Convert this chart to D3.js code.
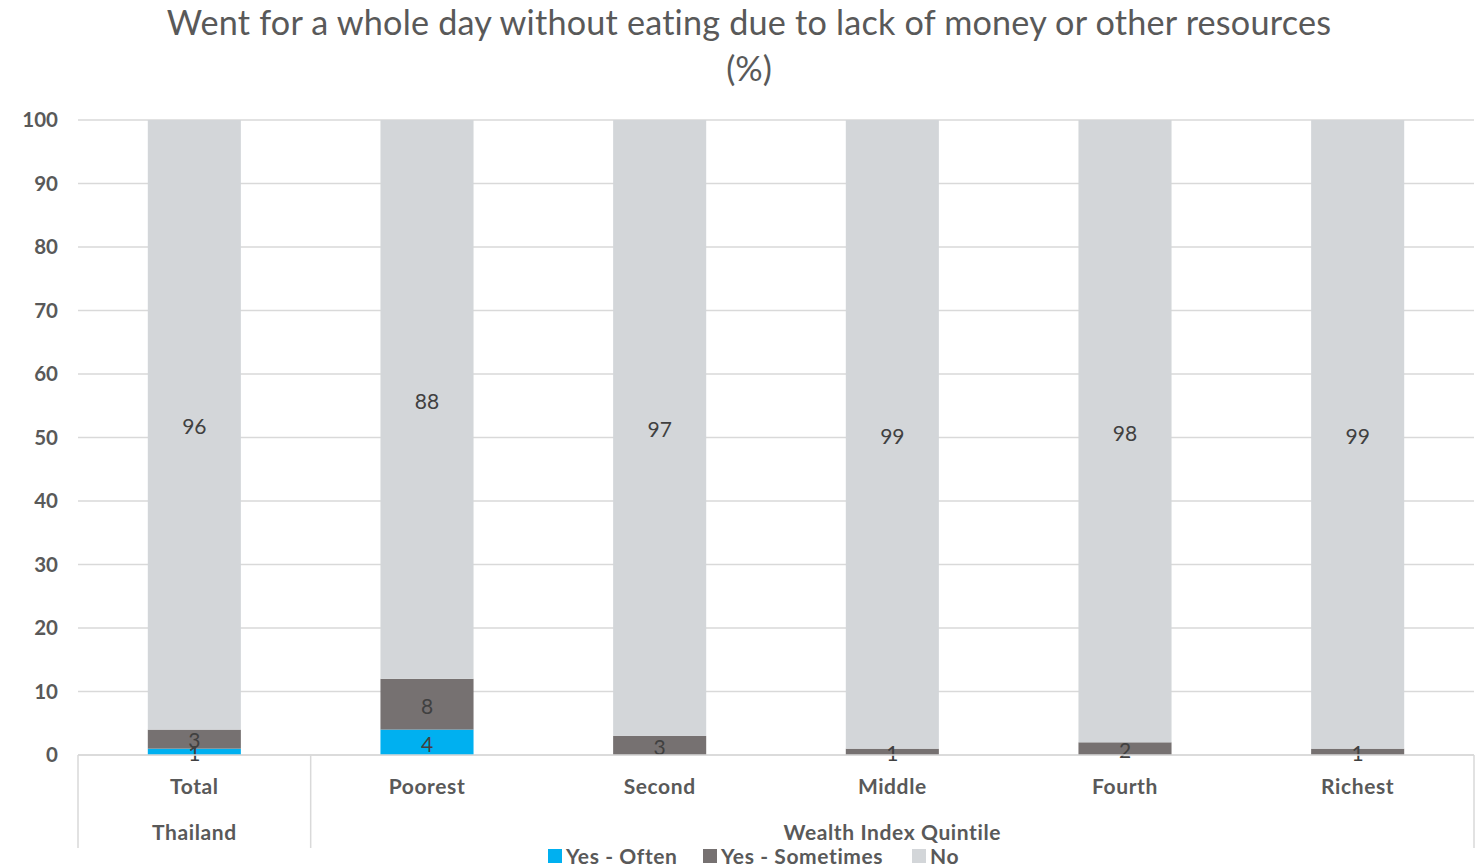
<!DOCTYPE html>
<html>
<head>
<meta charset="utf-8">
<script src="https://cdn.jsdelivr.net/npm/d3@7"></script>
<style>
  html, body { margin: 0; padding: 0; background: #fff; }
  svg { display: block; }
</style>
</head>
<body>
<svg id="chart" width="1476" height="867"></svg>
<script>
// Categories along the x axis and their group
const categories = ["Total", "Poorest", "Second", "Middle", "Fourth", "Richest"];
const groups = [
  { label: "Thailand", members: ["Total"] },
  { label: "Wealth Index Quintile", members: ["Poorest", "Second", "Middle", "Fourth", "Richest"] }
];

// Series values (%)
const seriesNames = ["Yes - Often", "Yes - Sometimes", "No"];
const yesOften     = [1, 4, 0, 0, 0, 0];
const yesSometimes = [3, 8, 3, 1, 2, 1];
const no           = [96, 88, 97, 99, 98, 99];
const seriesColors = ["#00B0F0", "#767171", "#D3D6D9"];

const yTicks = [0, 10, 20, 30, 40, 50, 60, 70, 80, 90, 100];

const title1 = "Went for a whole day without eating due to lack of money or other resources";
const title2 = "(%)";

const W = 1476, H = 867;
const margin = { left: 78, right: 2, top: 120, bottom: 112 };
const svg = d3.select("#chart");
const font = "Lato, 'Liberation Sans', sans-serif";

const x = d3.scaleBand().domain(categories)
  .range([margin.left, W - margin.right]).paddingInner(0.6).paddingOuter(0.3);
const y = d3.scaleLinear().domain([0, 100]).range([H - margin.bottom, margin.top]);

// Title
svg.append("text").attr("x", 749).attr("y", 35).attr("text-anchor", "middle")
  .attr("font-family", font).attr("font-size", 34.2).attr("fill", "#595959")
  .attr("font-weight", 400).attr("letter-spacing", 0.2).text(title1);
svg.append("text").attr("x", 749).attr("y", 81).attr("text-anchor", "middle")
  .attr("font-family", font).attr("font-size", 34.2).attr("fill", "#595959")
  .attr("font-weight", 400).text(title2);

// Gridlines
svg.append("g").selectAll("line").data(yTicks).join("line")
  .attr("x1", margin.left).attr("x2", W - margin.right)
  .attr("y1", d => y(d)).attr("y2", d => y(d))
  .attr("stroke", "#D9D9D9").attr("stroke-width", 1.5);

// Y axis labels
const yAxis = svg.append("g").attr("transform", `translate(${margin.left - 20},0)`)
  .call(d3.axisLeft(y).tickValues(yTicks).tickSize(0).tickPadding(0));
yAxis.select(".domain").remove();
yAxis.selectAll("text").attr("font-family", font).attr("font-size", 20.5)
  .attr("font-weight", 700).attr("fill", "#595959");

// Stacked data
const rows = categories.map((c, i) => ({
  cat: c, "Yes - Often": yesOften[i], "Yes - Sometimes": yesSometimes[i], "No": no[i]
}));
const stacked = d3.stack().keys(seriesNames)(rows);

const layers = svg.append("g").selectAll("g").data(stacked).join("g")
  .attr("fill", (d, i) => seriesColors[i]);
layers.selectAll("rect").data(d => d).join("rect")
  .attr("x", d => x(d.data.cat)).attr("width", x.bandwidth())
  .attr("y", d => y(d[1])).attr("height", d => y(d[0]) - y(d[1]));

// Data labels, centred in each segment
const labels = svg.append("g");
stacked.forEach(layer => {
  layer.forEach(d => {
    const v = d[1] - d[0];
    if (v <= 0) return;
    labels.append("text")
      .attr("x", x(d.data.cat) + x.bandwidth() / 2)
      .attr("y", y((d[0] + d[1]) / 2) + 2)
      .attr("dy", "0.35em").attr("text-anchor", "middle")
      .attr("font-family", font).attr("font-size", 21).attr("fill", "#404040")
      .text(v);
  });
});

// Baseline
const base = y(0);
svg.append("line").attr("x1", margin.left).attr("x2", W - margin.right)
  .attr("y1", base).attr("y2", base).attr("stroke", "#D9D9D9").attr("stroke-width", 1.5);

// Multi-level category axis: separators
const step = x.step();
const bandLeft = c => x(c) - (step - x.bandwidth()) / 2;
const groupEdges = [margin.left];
groups.forEach(g => {
  const last = g.members[g.members.length - 1];
  groupEdges.push(bandLeft(last) + step);
});
groupEdges[groupEdges.length - 1] = W - margin.right;
svg.append("g").selectAll("line").data(groupEdges).join("line")
  .attr("x1", d => d).attr("x2", d => d)
  .attr("y1", base).attr("y2", base + 93)
  .attr("stroke", "#D9D9D9").attr("stroke-width", 1.5);

// Category labels
svg.append("g").selectAll("text").data(categories).join("text")
  .attr("x", d => x(d) + x.bandwidth() / 2).attr("y", base + 39)
  .attr("text-anchor", "middle").attr("font-family", font).attr("font-size", 21)
  .attr("letter-spacing", 0.6)
  .attr("font-weight", 700).attr("fill", "#595959").text(d => d);

// Group labels
svg.append("g").selectAll("text").data(groups).join("text")
  .attr("x", (g, i) => (groupEdges[i] + groupEdges[i + 1]) / 2)
  .attr("y", base + 85)
  .attr("text-anchor", "middle").attr("font-family", font).attr("font-size", 21)
  .attr("letter-spacing", 0.6)
  .attr("font-weight", 700).attr("fill", "#595959").text(g => g.label);

// Legend
const legendX = [548, 703, 912];
const legend = svg.append("g");
seriesNames.forEach((s, i) => {
  legend.append("rect").attr("x", legendX[i]).attr("y", 849).attr("width", 14).attr("height", 14)
    .attr("fill", seriesColors[i]);
  legend.append("text").attr("x", legendX[i] + 18).attr("y", 864)
    .attr("font-family", font).attr("font-size", 21).attr("font-weight", 700)
    .attr("letter-spacing", 0.6)
    .attr("fill", "#595959").text(s);
});
</script>
</body>
</html>
